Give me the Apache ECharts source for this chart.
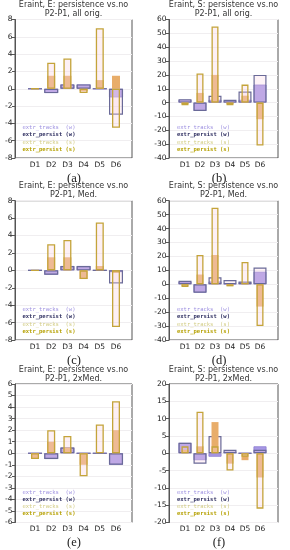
<!DOCTYPE html>
<html><head><meta charset="utf-8">
<script src="https://cdn.jsdelivr.net/npm/echarts@6/dist/echarts.min.js"></script>
<style>html,body{margin:0;padding:0;background:#fff}#c{width:290px;height:550px}</style>
</head><body><div id="c"></div>
<script>
const categories = ['D1','D2','D3','D4','D5','D6'];
const ticksE = [-8,-6,-4,-2,0,2,4,6,8];
const ticksS = [-40,-30,-20,-10,0,10,20,30,40,50,60];
const ticksE2 = [-6,-5,-4,-3,-2,-1,0,1,2,3,4,5,6];
const ticksS2 = [-20,-15,-10,-5,0,5,10,15,20];
const titleLine1 = ['Eraint, E: persistence vs.no','Eraint, S: persistence vs.no','Eraint, E: persistence vs.no','Eraint, S: persistence vs.no','Eraint, E: persistence vs.no','Eraint, S: persistence vs.no'];
const titleLine2 = ['P2-P1, all orig.','P2-P1, all orig.','P2-P1, Med.','P2-P1, Med.','P2-P1, 2xMed.','P2-P1, 2xMed.'];
const captions = ['(a)','(b)','(c)','(d)','(e)','(f)'];
const seriesNames = ['extr_tracks  (w)','extr_persist (w)','extr_tracks  (s)','extr_persist (s)'];

const a_tracksW = [0, -0.5, 0.5, 0.5, 0, -1];
const a_persistW = [0, -0.5, 0.5, 0.5, 0, -3];
const a_tracksS = [0, 1.5, 1.5, -0.3, 1, 1.5];
const a_persistS = [0, 3, 3.5, -0.5, 7, -4.5];

const b_tracksW = [2, -6, 2, 1, 2, 13];
const b_persistW = [2.5, -6, 5, 2, 8, 20];
const b_tracksS = [-1, 7, 20, -1, 5, -12];
const b_persistS = [-2, 21, 55, -2, 13, -31];

const c_tracksW = [0, -0.5, 0.5, 0.5, 0, -0.2];
const c_persistW = [0, -0.5, 0.5, 0.5, 0, -1.5];
const c_tracksS = [0, 1.5, 1.5, -1, 0.5, -0.3];
const c_persistS = [0, 3, 3.5, -1, 5.5, -6.5];

const d_tracksW = [2, -6, 2, 0.5, 1.5, 9];
const d_persistW = [2.5, -6, 5, 3, 2, 12];
const d_tracksS = [-1, 7, 21, -1, 1, -16];
const d_persistS = [-2, 21, 55, -1.5, 16, -30];

const e_tracksW = [0, -0.5, 0.5, 0, 0, -1];
const e_persistW = [0, -0.5, 0.5, 0, 0, -1];
const e_tracksS = [-0.5, 1, 0.5, -1, 0, 2];
const e_persistS = [-0.5, 2, 1.5, -2, 2.5, 4.5];

const f_tracksW = [3, -2, -1, 0.5, 0, 2];
const f_persistW = [3, -3, 5, 1, 0, 1];
const f_tracksS = [1, 2, 9, -3, -2, -7];
const f_persistS = [2, 12, 2, -5, -1, -16];

const panels = [
  {ticks: ticksE, d: [a_tracksW, a_persistW, a_tracksS, a_persistS]},
  {ticks: ticksS, d: [b_tracksW, b_persistW, b_tracksS, b_persistS]},
  {ticks: ticksE, d: [c_tracksW, c_persistW, c_tracksS, c_persistS]},
  {ticks: ticksS, d: [d_tracksW, d_persistW, d_tracksS, d_persistS]},
  {ticks: ticksE2, d: [e_tracksW, e_persistW, e_tracksS, e_persistS]},
  {ticks: ticksS2, d: [f_tracksW, f_persistW, f_tracksS, f_persistS]}
];

const cols = [
  {boxLeft: 15, boxWidth: 117, innerLeft: 26.9, innerWidth: 97.2, wide: 14, narrow: 8, legendLeft: 16.5, capX: 74, titleX: 73.5},
  {boxLeft: 169, boxWidth: 109, innerLeft: 177.5, innerWidth: 90, wide: 13, narrow: 7, legendLeft: 171, capX: 219, titleX: 223.5}
];
const rows = [
  {top: 19.5, height: 138.5},
  {top: 200.7, height: 139.3},
  {top: 384, height: 138.5}
];

const FONT = 'DejaVu Sans';
const grid = [], xAxis = [], yAxis = [], series = [], legend = [], graphic = [];
const legendColors = ['#9d90e0', '#2e2e60', '#d2cc84', '#b5a000'];
const legendWeights = ['normal', 'bold', 'normal', 'bold'];

panels.forEach((p, i) => {
  const col = cols[i % 2], row = rows[Math.floor(i / 2)];
  const tmin = p.ticks[0], tmax = p.ticks[p.ticks.length - 1], step = p.ticks[1] - p.ticks[0];
  const bottom = row.top + row.height;
  grid.push({left: col.boxLeft, top: row.top, width: col.boxWidth, height: row.height, show: true, borderColor: '#555', borderWidth: 1, backgroundColor: 'transparent'});
  grid.push({left: col.innerLeft, top: row.top, width: col.innerWidth, height: row.height});
  const gOuter = 2 * i, gInner = 2 * i + 1;
  const xo = xAxis.length;
  xAxis.push({type: 'category', gridIndex: gOuter, data: categories, show: false});
  xAxis.push({type: 'category', gridIndex: gInner, data: categories, axisLine: {show: false}, axisTick: {show: false}, splitLine: {show: false},
    axisLabel: {fontSize: 7.5, fontFamily: FONT, color: '#222', margin: 3, interval: 0}});
  xAxis.push({type: 'category', gridIndex: gInner, data: categories, show: false});
  const yo = yAxis.length;
  yAxis.push({type: 'value', gridIndex: gOuter, min: tmin, max: tmax, interval: step,
    axisLine: {show: true, lineStyle: {color: '#555', width: 1}},
    axisTick: {show: true, inside: false, length: 3, lineStyle: {color: '#555'}},
    axisLabel: {fontSize: 7.5, fontFamily: FONT, color: '#222', margin: 2.5},
    splitLine: {show: true, lineStyle: {color: '#f0eef0', width: 1}}});
  yAxis.push({type: 'value', gridIndex: gInner, min: tmin, max: tmax, interval: step, show: false, splitLine: {show: false}});
  const styles = [
    {color: '#a898e6', borderColor: '#8b7cd2', borderWidth: 0.8},
    {color: 'rgba(250,212,226,0.28)', borderColor: '#6a6a98', borderWidth: 1.2},
    {color: '#e8ad6a', borderColor: '#e8ad6a', borderWidth: 0},
    {color: 'rgba(250,212,226,0.35)', borderColor: '#c4a43a', borderWidth: 1.3}
  ];
  p.d.forEach((arr, k) => {
    series.push({
      type: 'bar', name: seriesNames[k], data: arr,
      xAxisIndex: k < 2 ? xo + 1 : xo + 2, yAxisIndex: yo + 1,
      barWidth: k < 2 ? col.wide : col.narrow, barGap: '-100%',
      itemStyle: styles[k], z: 2 + k, silent: true, animation: false
    });
  });
  legend.push({
    orient: 'vertical', left: col.legendLeft, top: bottom - 34, itemGap: 0, itemWidth: 0, itemHeight: 0,
    selectedMode: false, padding: 0,
    textStyle: {fontSize: 5.5, fontFamily: 'DejaVu Sans Mono', lineHeight: 7.3},
    data: seriesNames.map((n, k) => ({name: n, icon: 'rect', textStyle: {color: legendColors[k], fontWeight: legendWeights[k]}}))
  });
  graphic.push({type: 'text', x: col.titleX, y: row.top - 14.5, silent: true,
    style: {text: titleLine1[i], fontSize: 8, fontFamily: FONT, fill: '#333', align: 'center', verticalAlign: 'middle', textAlign: 'center', textVerticalAlign: 'middle'}});
  graphic.push({type: 'text', x: col.titleX, y: row.top - 5.5, silent: true,
    style: {text: titleLine2[i], fontSize: 8, fontFamily: FONT, fill: '#333', align: 'center', verticalAlign: 'middle', textAlign: 'center', textVerticalAlign: 'middle'}});
  graphic.push({type: 'text', x: col.capX, y: bottom + 20.5, silent: true,
    style: {text: captions[i], fontSize: 12.5, fontFamily: 'Liberation Serif', fill: '#222', align: 'center', verticalAlign: 'middle', textAlign: 'center', textVerticalAlign: 'middle'}});
});

const chart = echarts.init(document.getElementById('c'), null, {renderer: 'canvas'});
chart.setOption({animation: false, backgroundColor: '#fff', grid, xAxis, yAxis, series, legend, graphic});
</script></body></html>
